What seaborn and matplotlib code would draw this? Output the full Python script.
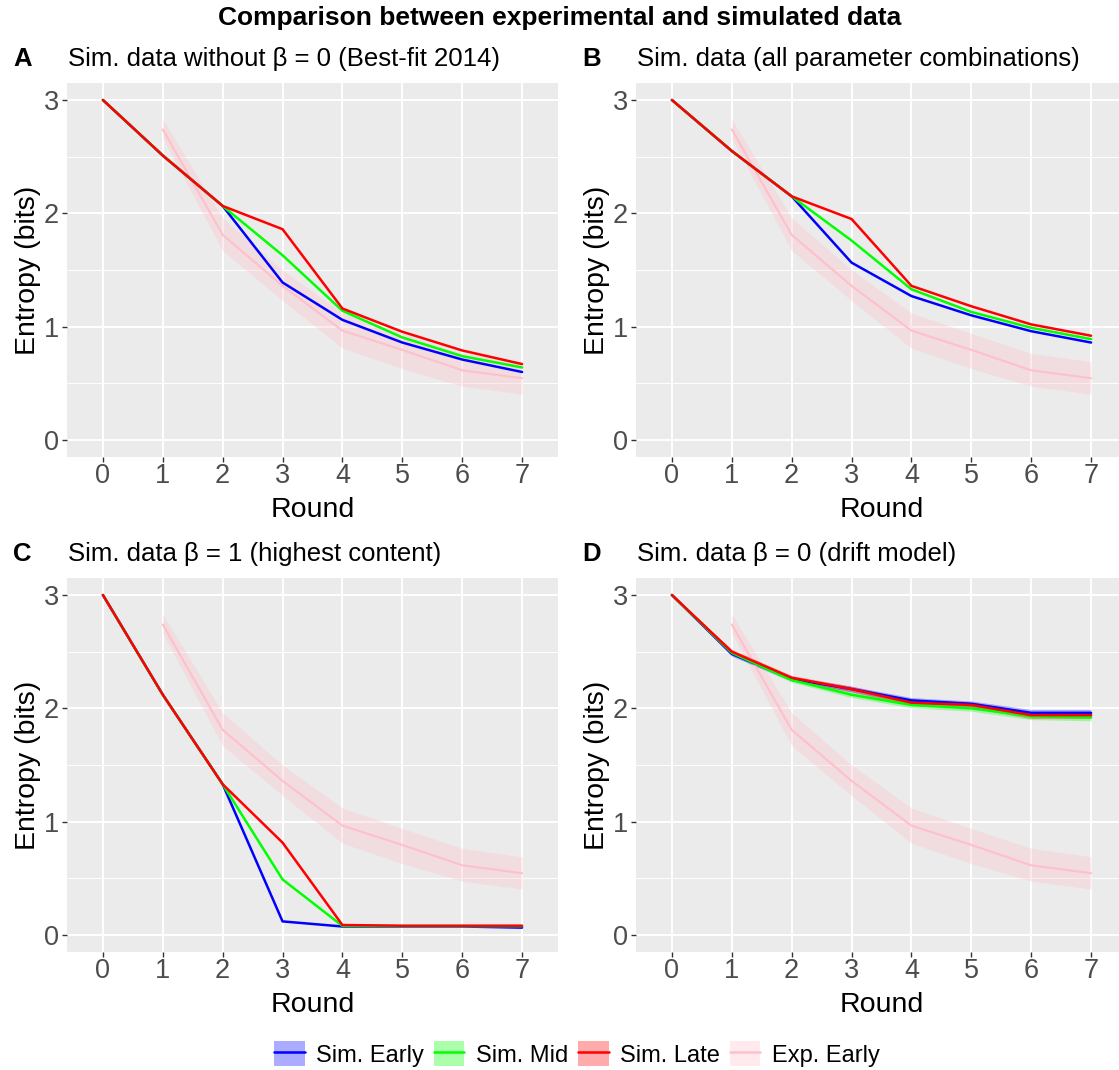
import numpy as np
import pandas as pd
import matplotlib
matplotlib.use("Agg")
import matplotlib.pyplot as plt
import seaborn as sns
from matplotlib.patches import Patch
from matplotlib.lines import Line2D

# ---------------- data ----------------
rounds = [0, 1, 2, 3, 4, 5, 6, 7]
exp_rounds = [1, 2, 3, 4, 5, 6, 7]
exp_mean = [2.74, 1.81, 1.36, 0.965, 0.795, 0.615, 0.545]
exp_lo = [2.66, 1.67, 1.23, 0.81, 0.63, 0.475, 0.405]
exp_hi = [2.83, 1.96, 1.50, 1.12, 0.94, 0.765, 0.69]

A_early = [3.0, 2.51, 2.065, 1.39, 1.06, 0.86, 0.71, 0.60]
A_mid = [3.0, 2.51, 2.065, 1.63, 1.14, 0.905, 0.74, 0.64]
A_late = [3.0, 2.51, 2.065, 1.86, 1.16, 0.955, 0.79, 0.67]

B_early = [3.0, 2.55, 2.15, 1.565, 1.27, 1.10, 0.96, 0.86]
B_mid = [3.0, 2.55, 2.15, 1.76, 1.33, 1.13, 0.99, 0.89]
B_late = [3.0, 2.55, 2.15, 1.95, 1.36, 1.18, 1.02, 0.92]

C_early = [3.0, 2.12, 1.33, 0.12, 0.075, 0.075, 0.075, 0.065]
C_mid = [3.0, 2.12, 1.33, 0.49, 0.08, 0.078, 0.078, 0.078]
C_late = [3.0, 2.12, 1.33, 0.815, 0.088, 0.082, 0.082, 0.082]

D_early = [3.0, 2.48, 2.26, 2.17, 2.07, 2.04, 1.96, 1.96]
D_mid = [3.0, 2.49, 2.25, 2.12, 2.03, 2.00, 1.93, 1.92]
D_late = [3.0, 2.50, 2.27, 2.17, 2.05, 2.03, 1.94, 1.94]
D_halfwidth = [0.0, 0.02, 0.02, 0.025, 0.025, 0.025, 0.03, 0.03]

series_names = ["Sim. Early", "Sim. Mid", "Sim. Late"]
exp_name = "Exp. Early"
colors = {"Sim. Early": "#0000FF", "Sim. Mid": "#00FF00",
          "Sim. Late": "#FF0000", "Exp. Early": "#FFC0CB"}

panels = [
    ("A", "Sim. data without \u03b2 = 0 (Best-fit 2014)", [A_early, A_mid, A_late], False),
    ("B", "Sim. data (all parameter combinations)", [B_early, B_mid, B_late], False),
    ("C", "Sim. data \u03b2 = 1 (highest content)", [C_early, C_mid, C_late], False),
    ("D", "Sim. data \u03b2 = 0 (drift model)", [D_early, D_mid, D_late], True),
]

title = "Comparison between experimental and simulated data"
xlabel = "Round"
ylabel = "Entropy (bits)"
yticks = [0, 1, 2, 3]

# ---------------- style ----------------
sns.set_theme(style="darkgrid")
plt.rcParams["font.family"] = ["Liberation Sans", "DejaVu Sans"]
plt.rcParams["text.color"] = "black"
plt.rcParams["axes.labelcolor"] = "black"

W, H = 1119, 1070
fig = plt.figure(figsize=(W / 100, H / 100), dpi=100)
fig.patch.set_facecolor("white")

def px_axes(left, top, right, bottom):
    return fig.add_axes([left / W, 1 - bottom / H, (right - left) / W, (bottom - top) / H])

boxes = [
    (67, 83, 558, 457),
    (636, 83, 1127, 457),
    (67, 578, 558, 952),
    (636, 578, 1127, 952),
]

for (letter, sub, sims, ribbons), (l, t, r, b) in zip(panels, boxes):
    ax = px_axes(l, t, r, b)
    ax.set_facecolor("#EBEBEB")
    # experimental ribbon + line
    ax.fill_between(exp_rounds, exp_lo, exp_hi, color=colors[exp_name],
                    alpha=0.33, linewidth=0)
    exp_df = pd.DataFrame({"Round": exp_rounds, "Entropy": exp_mean, "Group": exp_name})
    sns.lineplot(data=exp_df, x="Round", y="Entropy", hue="Group",
                 palette=colors, linewidth=1.5, legend=False, ax=ax)
    rows = []
    for name, vals in zip(series_names, sims):
        for x, v in zip(rounds, vals):
            rows.append({"Round": x, "Entropy": v, "Group": name})
        if ribbons:
            lo = [v - h for v, h in zip(vals, D_halfwidth)]
            hi = [v + h for v, h in zip(vals, D_halfwidth)]
            ax.fill_between(rounds, lo, hi, color=colors[name], alpha=0.3, linewidth=0)
    sim_df = pd.DataFrame(rows)
    sns.lineplot(data=sim_df, x="Round", y="Entropy", hue="Group",
                 hue_order=series_names, palette=colors, linewidth=1.8,
                 legend=False, ax=ax)

    ax.set_xlim(-0.6, 7.6)
    ax.set_ylim(-0.15, 3.15)
    ax.set_xticks(rounds)
    ax.set_yticks(yticks)
    ax.set_yticks([0.5, 1.5, 2.5], minor=True)
    ax.grid(which="major", color="white", linewidth=1.4)
    ax.grid(which="minor", axis="y", color="white", linewidth=0.7)
    ax.grid(which="minor", axis="x", visible=False)
    for s in ax.spines.values():
        s.set_visible(False)
    ax.tick_params(axis="both", which="major", length=3.6, width=1.0,
                   color="#333333", labelsize=19.5, labelcolor="#4D4D4D",
                   bottom=True, left=True)
    ax.tick_params(axis="x", which="major", pad=0.5)
    ax.tick_params(axis="y", which="major", pad=2)
    ax.tick_params(axis="both", which="minor", length=0)
    ax.set_xlabel(xlabel, fontsize=20.5, color="black")
    ax.set_ylabel(ylabel, fontsize=20.5, color="black")
    ax.xaxis.set_label_coords(0.5, -0.142)
    ax.yaxis.set_label_coords(-0.079, 0.5)
    ax.xaxis.label.set_va("center")
    ax.yaxis.label.set_va("center")

    fig.text((l - 54) / W, 1 - (t - 24) / H, letter, fontsize=18.5,
             fontweight="bold", ha="left", va="center", color="black")
    fig.text((l + 1) / W, 1 - (t - 24) / H, sub, fontsize=18.5,
             ha="left", va="center", color="black")

fig.text(560 / W, 1 - 18 / H, title, fontsize=19, fontweight="bold",
         ha="center", va="center", color="black")

handles = []
for name in series_names + [exp_name]:
    handles.append((Patch(facecolor=colors[name], alpha=0.33, edgecolor="none"),
                    Line2D([], [], color=colors[name], linewidth=1.8)))
fig.legend(handles, series_names + [exp_name], loc="center",
           bbox_to_anchor=(577 / W, 1 - 1054 / H), ncol=4, frameon=False,
           fontsize=17, handlelength=1.3, handleheight=1.25,
           handletextpad=0.5, columnspacing=0.4, borderpad=0)

fig.savefig("out.png", dpi=100, facecolor="white")
